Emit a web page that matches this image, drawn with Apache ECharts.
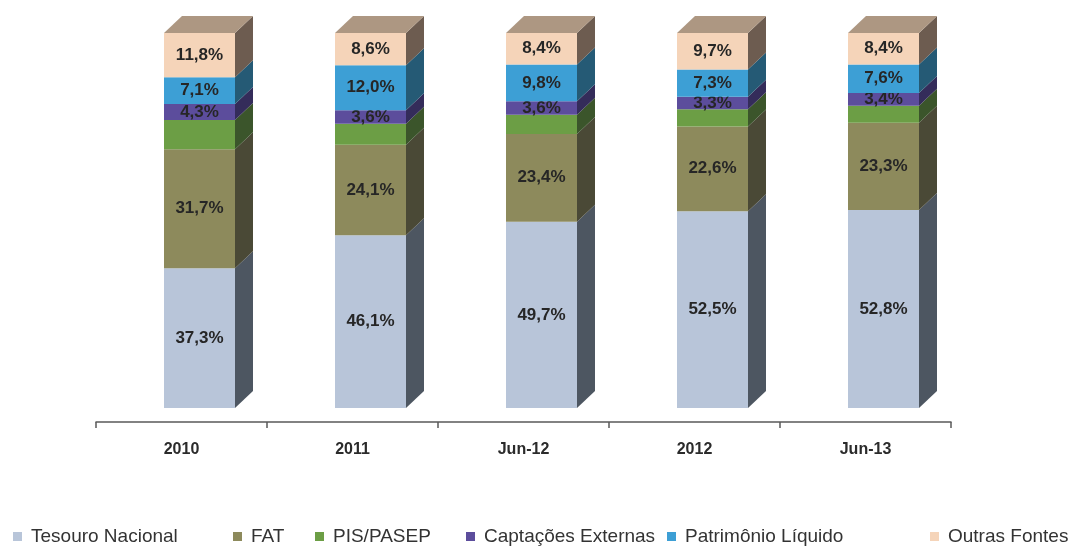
<!DOCTYPE html>
<html>
<head>
<meta charset="utf-8">
<script src="https://cdn.jsdelivr.net/npm/echarts@6/dist/echarts.min.js"></script>
<style>
  html, body { margin: 0; padding: 0; background: #ffffff; }
  #chart { width: 1083px; height: 548px; }
</style>
</head>
<body>
<div id="chart"></div>
<script>
// Funding structure by source (% of total)
const categories = ['2010', '2011', 'Jun-12', '2012', 'Jun-13'];
const seriesNames = ['Tesouro Nacional', 'FAT', 'PIS/PASEP', 'Captações Externas', 'Patrimônio Líquido', 'Outras Fontes'];

const tesouroNacional   = [37.3, 46.1, 49.7, 52.5, 52.8];
const fat               = [31.7, 24.1, 23.4, 22.6, 23.3];
const pisPasep          = [7.8, 5.6, 5.1, 4.6, 4.5];
const captacoesExternas = [4.3, 3.6, 3.6, 3.3, 3.4];
const patrimonioLiquido = [7.1, 12.0, 9.8, 7.3, 7.6];
const outrasFontes      = [11.8, 8.6, 8.4, 9.7, 8.4];

const seriesValues = [tesouroNacional, fat, pisPasep, captacoesExternas, patrimonioLiquido, outrasFontes];
const showLabel = [true, true, false, true, true, true];

// front / side colours for each block
const frontColors = ['#b8c5d9', '#8d8a5c', '#6c9e45', '#5c4d9c', '#3d9fd5', '#f5d4b9'];
const sideColors  = ['#4d5661', '#4a4936', '#3b552b', '#342c5a', '#255a75', '#6d5c50'];
const topColor = '#ad9782';

// 3D block geometry (pixels)
const BAR_W = 71;
const SHIFT = 18;   // front face shift right of category centre
const DX = 18;      // depth offset x
const DY = -17;     // depth offset y

const fmt = v => v.toFixed(1).replace('.', ',') + '%';

// stacked rows: [categoryIndex, base, top, value]
const stackedRows = [];
const running = categories.map(() => 0);
seriesValues.forEach((vals, si) => {
  stackedRows.push(vals.map((v, ci) => {
    const base = running[ci];
    running[ci] += v;
    return [ci, base, running[ci], v];
  }));
});

function makeRender(si) {
  const isTop = si === seriesValues.length - 1;
  return function (params, api) {
    const ci = api.value(0);
    const pb = api.coord([ci, api.value(1)]);
    const pt = api.coord([ci, api.value(2)]);
    const x0 = pb[0] + SHIFT - BAR_W / 2;
    const x1 = x0 + BAR_W;
    const yb = pb[1];
    const yt = pt[1];
    const children = [
      {
        type: 'polygon',
        shape: { points: [[x1, yt], [x1 + DX, yt + DY], [x1 + DX, yb + DY], [x1, yb]] },
        style: { fill: sideColors[si] }
      },
      {
        type: 'rect',
        shape: { x: x0, y: yt, width: BAR_W, height: yb - yt },
        style: { fill: frontColors[si] }
      }
    ];
    if (isTop) {
      children.push({
        type: 'polygon',
        shape: { points: [[x0, yt], [x0 + DX, yt + DY], [x1 + DX, yt + DY], [x1, yt]] },
        style: { fill: topColor }
      });
    }
    if (showLabel[si]) {
      children.push({
        type: 'text',
        style: {
          text: fmt(api.value(3)),
          x: (x0 + x1) / 2,
          y: (yt + yb) / 2,
          align: 'center',
          verticalAlign: 'middle',
          font: 'bold 17px "Liberation Sans", Arial, sans-serif',
          fill: '#262626'
        }
      });
    }
    return { type: 'group', children: children };
  };
}

const legendLefts = [13, 233, 315, 466, 667, 930];

const chart = echarts.init(document.getElementById('chart'));
chart.setOption({
  animation: false,
  backgroundColor: '#ffffff',
  grid: { left: 96, right: 132, top: 33, bottom: 140 },
  xAxis: {
    type: 'category',
    data: categories,
    offset: 14,
    axisLine: { onZero: false, lineStyle: { color: '#5a5a5a', width: 1.5 } },
    axisTick: { show: true, length: 6, lineStyle: { color: '#5a5a5a', width: 1.5 } },
    axisLabel: {
      margin: 20,
      color: '#2b2b2b',
      fontFamily: '"Liberation Sans", Arial, sans-serif',
      fontWeight: 'bold',
      fontSize: 16
    }
  },
  yAxis: { type: 'value', min: 0, max: 100, show: false },
  legend: seriesNames.map((name, i) => ({
    data: [name],
    left: legendLefts[i],
    top: 527,
    padding: 0,
    itemWidth: 9,
    itemHeight: 9,
    icon: 'rect',
    selectedMode: false,
    textStyle: {
      color: '#333333',
      fontFamily: '"Liberation Sans", Arial, sans-serif',
      fontSize: 19,
      padding: [0, 0, 0, 4]
    }
  })),
  series: seriesNames.map((name, si) => ({
    name: name,
    type: 'custom',
    renderItem: makeRender(si),
    itemStyle: { color: frontColors[si] },
    encode: { x: 0, y: [1, 2] },
    data: stackedRows[si]
  }))
});
</script>
</body>
</html>
